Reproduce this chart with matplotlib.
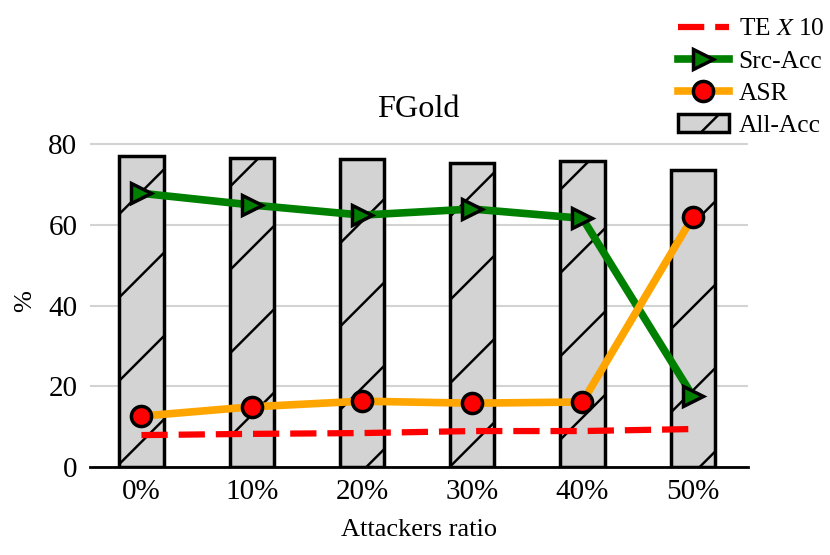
import matplotlib
matplotlib.use('Agg')
import matplotlib.pyplot as plt
import numpy as np

# values
ratios = ['0%', '10%', '20%', '30%', '40%', '50%']
all_acc = [77.0, 76.6, 76.2, 75.2, 75.9, 73.6]
src_acc = [67.8, 64.9, 62.4, 63.9, 61.6, 17.6]
asr = [12.6, 14.9, 16.3, 15.8, 16.1, 61.9]
te_x10 = [7.9, 8.2, 8.4, 8.9, 8.9, 9.4]

plt.rcParams['font.family'] = ['Liberation Serif', 'DejaVu Serif']
plt.rcParams['mathtext.fontset'] = 'stix'
plt.rcParams['hatch.linewidth'] = 0.7

fig = plt.figure(figsize=(3.32, 2.22), dpi=250)
ax = fig.add_axes([0.108, 0.1586, 0.793, 0.5964])

x = np.arange(len(ratios))

ax.grid(axis='y', color='#d3d3d3', linewidth=0.6)
ax.set_axisbelow(True)

bars = ax.bar(x, all_acc, width=0.4, color='lightgray', edgecolor='black',
              linewidth=1.0, hatch='/', label='All-Acc', zorder=2)
te_line, = ax.plot(x, te_x10, color='red', linewidth=1.8, linestyle=(0, (4.2, 1.75)),
                   label='TE $X$ 10', zorder=3)
src_line, = ax.plot(x, src_acc, color='green', linewidth=2.2, marker='>', markersize=6,
                    markerfacecolor='green', markeredgecolor='black', markeredgewidth=1.0,
                    label='Src-Acc', zorder=4)
asr_line, = ax.plot(x, asr, color='orange', linewidth=2.2, marker='o', markersize=5.8,
                    markerfacecolor='red', markeredgecolor='black', markeredgewidth=1.0,
                    label='ASR', zorder=5)

ax.set_xlim(-0.47, 5.5)
ax.set_ylim(0, 82)
ax.set_yticks([0, 20, 40, 60, 80])
ax.set_xticks(x)
ax.set_xticklabels(ratios)
ax.tick_params(axis='both', length=0, labelsize=8.4, pad=3.5)

for side in ['left', 'right', 'top']:
    ax.spines[side].set_visible(False)
ax.spines['bottom'].set_linewidth(0.8)

ax.set_title('FGold', fontsize=9.3, pad=5.5)
ax.set_xlabel('Attackers ratio', fontsize=7.6, labelpad=4)
ax.set_ylabel('%', fontsize=7.6, labelpad=3.5)

ax.legend(handles=[te_line, src_line, asr_line, bars], loc='upper right',
          bbox_to_anchor=(1.0145, 1.0), bbox_transform=fig.transFigure,
          frameon=False, fontsize=7.3, numpoints=1, handlelength=2.0,
          handletextpad=0.4, labelspacing=0.37, borderaxespad=0.3)

fig.savefig('out.png', dpi=250)
